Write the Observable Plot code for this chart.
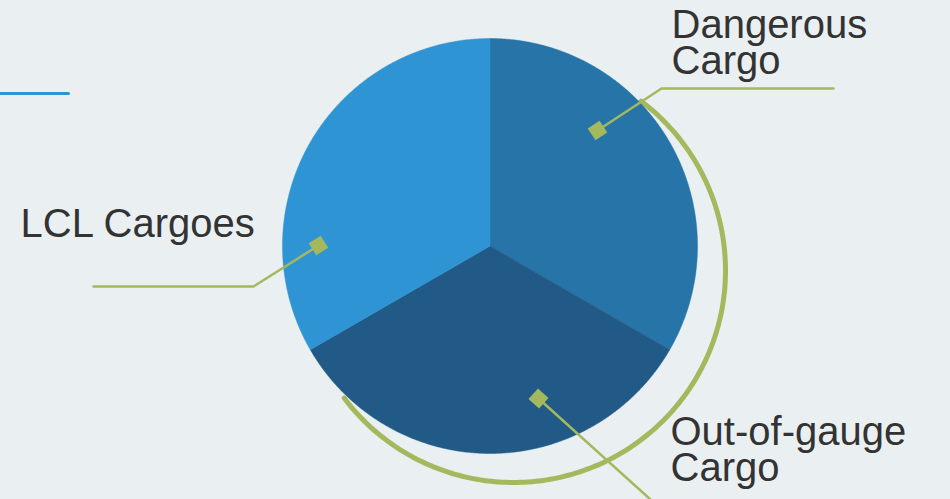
<!DOCTYPE html>
<html><head><meta charset="utf-8">
<script src="https://cdn.jsdelivr.net/npm/d3@7"></script>
<script src="https://cdn.jsdelivr.net/npm/@observablehq/plot@0.6"></script>
<style>
html,body{margin:0;padding:0;background:#eaf0f1;overflow:hidden}
#chart svg{display:block}
</style></head>
<body><div id="chart"></div>
<script>
// ---- data ----
const categories = ["Dangerous Cargo", "Out-of-gauge Cargo", "LCL Cargoes"];
const shares = [1, 1, 1];
const sliceColors = ["#2674a8", "#225a87", "#2f94d4"];
const labelTexts = ["Dangerous\nCargo", "Out-of-gauge\nCargo", "LCL Cargoes"];

// ---- layout (pixels) ----
const W = 950, H = 499, CX = 489.5, CY = 245.5, R = 207.5;
const GREEN = "#a4b85d";
const toU = (px, py) => ({x: (px - CX) / R, y: (py - CY) / R});

// slices from d3.pie, angles clockwise from 12 o'clock
const arcs = d3.pie().sort(null).value(d => d.v)(categories.map((c, i) => ({c, v: shares[i]})));
const slicePts = [];
arcs.forEach(p => {
  slicePts.push({c: p.data.c, x: 0, y: 0});
  const n = Math.ceil((p.endAngle - p.startAngle) / (Math.PI / 360));
  for (let k = 0; k <= n; k++) {
    const a = p.startAngle + (p.endAngle - p.startAngle) * k / n;
    slicePts.push({c: p.data.c, x: Math.sin(a), y: -Math.cos(a)});
  }
  slicePts.push({c: p.data.c, x: 0, y: 0});
});

// decorative green ring arc (offset circle), ends meeting the pie edge
const ring = {cx: 513, cy: 270, r: 212, a0: 37, a1: 233};
const ringPts = d3.range(ring.a0, ring.a1 + 0.5, 1).map(d => {
  const a = d * Math.PI / 180;
  return toU(ring.cx + ring.r * Math.sin(a), ring.cy - ring.r * Math.cos(a));
});

// callouts: diamond, elbow, end  (pixels)
const callouts = [
  {c: categories[0], pts: [[597, 130], [661, 88], [833, 88]], label: labelTexts[0], lx: 671, ly: 73},
  {c: categories[1], pts: [[538, 398], [660, 508]], label: labelTexts[1], lx: 670, ly: 480},
  {c: categories[2], pts: [[318, 245], [253, 286], [93, 286]], label: labelTexts[2], lx: 20, ly: 236}
];
const leaderPts = callouts.flatMap(o => o.pts.map(p => ({c: o.c, ...toU(p[0], p[1])})));
const diamonds = callouts.map(o => {
  const [a, b] = o.pts;
  const ang = Math.atan2(b[1] - a[1], b[0] - a[0]) * 180 / Math.PI;
  return {c: o.c, ...toU(a[0], a[1]), rot: ang};
});
const labels = callouts.map(o => ({...toU(o.lx, o.ly), t: o.label}));
const topRule = [toU(0, 93), toU(68, 93)];

const chart = Plot.plot({
  width: W, height: H,
  margin: 0,
  style: {background: "transparent", overflow: "visible"},
  x: {domain: [-CX / R, (W - CX) / R], range: [0, W], axis: null},
  y: {domain: [-CY / R, (H - CY) / R], range: [0, H], axis: null},
  color: {domain: categories, range: sliceColors},
  marks: [
    Plot.line(topRule, {x: "x", y: "y", stroke: "#2f94d4", strokeWidth: 3}),
    Plot.line(ringPts, {x: "x", y: "y", stroke: GREEN, strokeWidth: 5, curve: "linear"}),
    Plot.line(slicePts, {x: "x", y: "y", z: "c", fill: "c", stroke: "c", strokeWidth: 0.5, curve: "linear"}),
    Plot.line(leaderPts, {x: "x", y: "y", z: "c", stroke: GREEN, strokeWidth: 2.5, curve: "linear"}),
    Plot.dot(diamonds, {x: "x", y: "y", symbol: "square", r: 8, fill: GREEN, rotate: "rot", stroke: null}),
    Plot.text(labels, {x: "x", y: "y", text: "t", textAnchor: "start", lineAnchor: "bottom",
      fontSize: 40, lineHeight: 0.88, fill: "#333333", fontFamily: "Liberation Sans, Arial, sans-serif"})
  ]
});
document.getElementById("chart").appendChild(chart);
</script>
</body></html>
